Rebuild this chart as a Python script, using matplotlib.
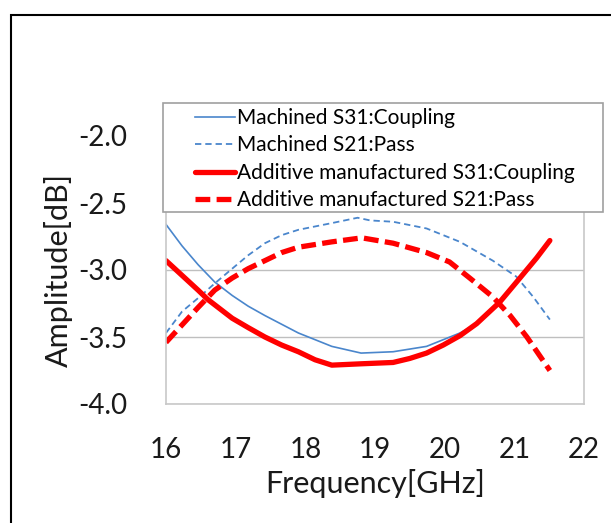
import matplotlib.pyplot as plt
from matplotlib.patches import Rectangle

plt.rcParams['font.family'] = ['Lato', 'DejaVu Sans']

# Machined S31: Coupling
f_m31 = [16.0, 16.23, 16.46, 16.70, 16.95, 17.18, 17.42, 17.90, 18.38, 18.80,
         19.26, 19.74, 19.98, 20.22, 20.46, 20.79, 21.08, 21.32, 21.51]
a_m31 = [-2.66, -2.82, -2.96, -3.09, -3.19, -3.27, -3.34, -3.47, -3.57, -3.62,
         -3.61, -3.57, -3.52, -3.47, -3.40, -3.24, -3.06, -2.91, -2.79]

# Machined S21: Pass
f_m21 = [16.0, 16.23, 16.46, 16.70, 16.95, 17.18, 17.42, 17.66, 17.90, 18.38,
         18.75, 18.93, 19.26, 19.74, 20.22, 20.69, 21.03, 21.27, 21.51]
a_m21 = [-3.47, -3.31, -3.21, -3.10, -2.99, -2.89, -2.80, -2.74, -2.70, -2.65,
         -2.61, -2.63, -2.64, -2.69, -2.79, -2.93, -3.05, -3.20, -3.37]

# Additive manufactured S31: Coupling
f_a31 = [16.0, 16.23, 16.46, 16.60, 16.95, 17.18, 17.42, 17.66, 17.90, 18.14,
         18.38, 18.80, 19.26, 19.50, 19.74, 19.98, 20.22, 20.46, 20.79, 21.08,
         21.32, 21.51]
a_a31 = [-2.93, -3.04, -3.15, -3.22, -3.36, -3.43, -3.50, -3.56, -3.61, -3.67,
         -3.71, -3.70, -3.69, -3.66, -3.62, -3.56, -3.49, -3.40, -3.24, -3.06,
         -2.91, -2.78]

# Additive manufactured S21: Pass
f_a21 = [16.0, 16.23, 16.46, 16.70, 16.95, 17.18, 17.42, 17.66, 17.90, 18.38,
         18.81, 19.26, 19.74, 20.07, 20.36, 20.69, 20.94, 21.18, 21.51]
a_a21 = [-3.54, -3.41, -3.28, -3.15, -3.06, -2.99, -2.93, -2.87, -2.83, -2.79,
         -2.76, -2.80, -2.87, -2.94, -3.06, -3.20, -3.34, -3.50, -3.75]

labels = ['Machined S31:Coupling', 'Machined S21:Pass',
          'Additive manufactured S31:Coupling', 'Additive manufactured S21:Pass']
x_ticks = [16, 17, 18, 19, 20, 21, 22]
y_ticks = [-4.0, -3.5, -3.0, -2.5, -2.0]

W, H = 611, 523
fig = plt.figure(figsize=(W / 100, H / 100), dpi=100)
ax = fig.add_axes([166 / W, 1 - 404 / H, (584 - 166) / W, (404 - 136) / H])

blue = '#4a86cc'
red = '#ff0000'
l1, = ax.plot(f_m31, a_m31, color=blue, lw=1.2)
l2, = ax.plot(f_m21, a_m21, color=blue, lw=1.3, dashes=(3.5, 2.2))
l3, = ax.plot(f_a31, a_a31, color=red, lw=3.8, solid_capstyle='round',
              solid_joinstyle='round')
l4, = ax.plot(f_a21, a_a21, color=red, lw=3.8, dashes=(2.8, 1.2))

ax.set_xlim(16, 22)
ax.set_ylim(-4.0, -2.0)
ax.set_xticks(x_ticks)
ax.set_yticks(y_ticks)
ax.set_yticklabels([f'{v:.1f}' for v in y_ticks])
ax.tick_params(length=0, labelsize=20, colors='#1a1a1a')
ax.tick_params(axis='y', pad=28)
ax.tick_params(axis='x', pad=24)
ax.grid(axis='y', color='#bfbfbf', lw=1.0)
ax.set_axisbelow(True)
for s in ax.spines.values():
    s.set_color('#c8c8c8')
    s.set_linewidth(1.2)

ax.set_xlabel('Frequency[GHz]', fontsize=22, labelpad=4, color='#1a1a1a')
ax.set_ylabel('Amplitude[dB]', fontsize=22, labelpad=4, color='#1a1a1a')

# legend box overlapping the top of the plot area
fig.patches.append(Rectangle((163 / W, 1 - 212 / H), (603 - 163) / W, (212 - 103) / H,
                             transform=fig.transFigure, facecolor='white',
                             edgecolor='#a0a0a0', lw=1.2, zorder=5))
leg = fig.legend([l1, l2, l3, l4], labels, loc='upper left',
                 bbox_to_anchor=(195 / W, 1 - 108 / H), frameon=False,
                 fontsize=15, borderpad=0, borderaxespad=0, handlelength=1.9,
                 handletextpad=0.1, labelspacing=0.36)
leg.set_zorder(6)

# outer frame
fig.patches.append(Rectangle((11 / W, -0.1), 1.2, 1.1 - 15 / H,
                             transform=fig.transFigure, facecolor='none',
                             edgecolor='black', lw=1.5, zorder=10))

fig.savefig('out.png', dpi=100)
